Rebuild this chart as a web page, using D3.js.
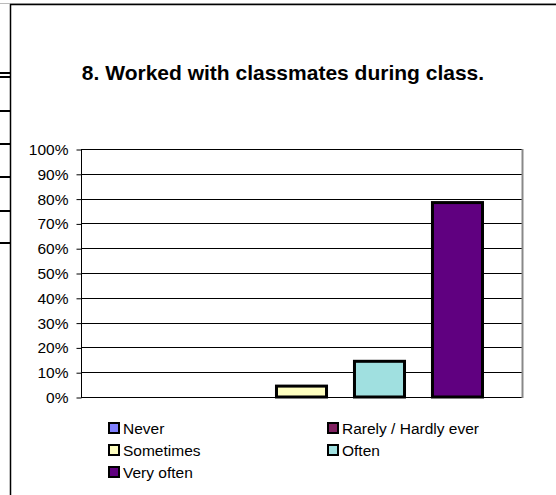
<!DOCTYPE html>
<html><head><meta charset="utf-8">
<script src="https://cdn.jsdelivr.net/npm/d3@7"></script>
<style>html,body{margin:0;padding:0;background:#fff;}svg{display:block;}</style>
</head><body>
<svg id="c" width="556" height="495"></svg>
<script>
const categories = ["Never", "Rarely / Hardly ever", "Sometimes", "Often", "Very often"];
const values = [0, 0, 5, 15, 79];
const colors = ["#8080FF", "#802060", "#FFFFC0", "#A0E0E0", "#600080"];
const yTicks = [0, 10, 20, 30, 40, 50, 60, 70, 80, 90, 100];
const title = "8. Worked with classmates during class.";
const stubYs = [73, 77, 111, 144, 177, 211, 243];

(function () {
const svg = d3.select("#c");
const font = "Arial, 'Liberation Sans', sans-serif";

// frame
svg.append("line").attr("x1", 0).attr("x2", 556).attr("y1", 3.5).attr("y2", 3.5).attr("stroke", "#bbb").attr("stroke-width", 1);
svg.append("line").attr("x1", 10).attr("x2", 556).attr("y1", 4.5).attr("y2", 4.5).attr("stroke", "#000").attr("stroke-width", 1.5);
svg.append("line").attr("x1", 10.5).attr("x2", 10.5).attr("y1", 4).attr("y2", 495).attr("stroke", "#000").attr("stroke-width", 1.5);
svg.selectAll(".stub").data(stubYs).enter().append("line")
  .attr("x1", 0).attr("x2", 10).attr("y1", d => d).attr("y2", d => d)
  .attr("stroke", "#000").attr("stroke-width", 2);

svg.append("text").attr("x", 283).attr("y", 80).attr("text-anchor", "middle")
  .attr("font-family", font).attr("font-weight", "bold").attr("font-size", 21).text(title);

const pl = 81, pr = 522, pt = 149, pb = 397;
// five series clustered in one category, with gaps between the bars
const x = d3.scaleBand().domain(categories).range([119, 484]).paddingInner(0.32).paddingOuter(0);
const y = d3.scaleLinear().domain([0, 100]).range([pb, pt]);

// gridlines
svg.append("g").selectAll("line").data(yTicks).enter().append("line")
  .attr("x1", pl).attr("x2", pr).attr("y1", d => Math.round(y(d)) + 0.5).attr("y2", d => Math.round(y(d)) + 0.5)
  .attr("stroke", "#000").attr("stroke-width", 1);
// plot border right
svg.append("line").attr("x1", pr + 0.5).attr("x2", pr + 0.5).attr("y1", pt).attr("y2", pb + 1).attr("stroke", "#888").attr("stroke-width", 2);

const yAxis = d3.axisLeft(y).tickValues(yTicks).tickFormat(d => d + "%").tickSize(5).tickPadding(8);
const ga = svg.append("g").attr("transform", `translate(${pl + 0.5},0.5)`).call(yAxis);
ga.selectAll("text").attr("font-family", font).attr("font-size", 15.5).attr("fill", "#000");
ga.selectAll("line").attr("stroke", "#000");
ga.select(".domain").attr("stroke", "#000").attr("d", `M0,${pt}V${pb}`);

svg.append("g").selectAll("rect").data(values.map((v, i) => ({v, c: categories[i], col: colors[i]})).filter(d => d.v > 0))
  .enter().append("rect")
  .attr("x", d => x(d.c) + 1.5).attr("width", x.bandwidth() - 3)
  .attr("y", d => y(d.v) + 1.5).attr("height", d => pb - y(d.v) - 1.5)
  .attr("fill", d => d.col).attr("stroke", "#000").attr("stroke-width", 3);

// legend
const legPos = [[108, 434], [327, 434], [108, 456], [327, 456], [108, 478]];
const lg = svg.append("g");
categories.forEach((c, i) => {
  const [lx, ly] = legPos[i];
  lg.append("rect").attr("x", lx + 1).attr("y", ly - 11).attr("width", 10).attr("height", 10)
    .attr("fill", colors[i]).attr("stroke", "#000").attr("stroke-width", 2);
  lg.append("text").attr("x", lx + 15).attr("y", ly).attr("font-family", font).attr("font-size", 15.5).text(c);
});
})();
</script>
</body></html>
